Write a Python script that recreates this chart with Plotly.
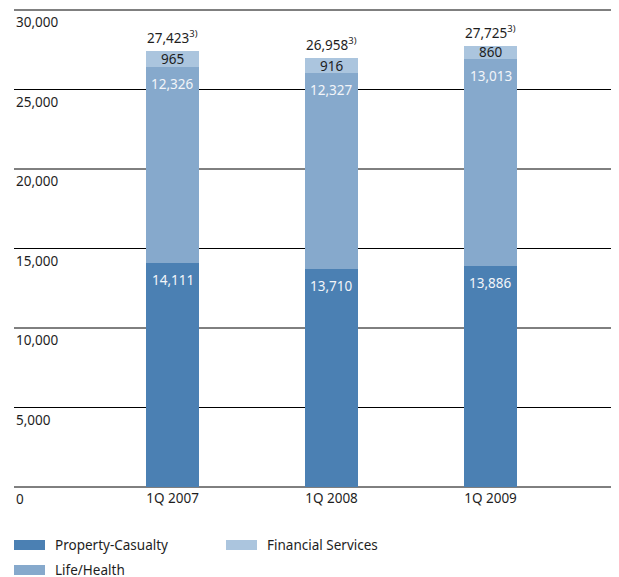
import plotly.graph_objects as go

categories = ["1Q 2007", "1Q 2008", "1Q 2009"]
property_casualty = [14111, 13710, 13886]
life_health = [12326, 12327, 13013]
financial_services = [965, 916, 860]
totals_reported = [27423, 26958, 27725]
footnote = "3)"
y_ticks = [0, 5000, 10000, 15000, 20000, 25000, 30000]

series = [
    ("Property-Casualty", property_casualty, "#4b80b3", "#f2f5f9"),
    ("Life/Health", life_health, "#86a9cc", "#f2f5f9"),
    ("Financial Services", financial_services, "#abc5de", "#1e1e1e"),
]

FONT = "Noto Sans"
FS = 13.5
TXT = "#1e1e1e"
OFF = 8  # page body margin
W, H = 619 - OFF, 577 - OFF
L, R, T, B = 6, 4, 1, 89
PW, PH = W - L - R, H - T - B
PAD = 63  # about one pixel of headroom at each end

fig = go.Figure()
for name, vals, col, _ in series:
    fig.add_trace(go.Bar(x=categories, y=vals, name=name, marker=dict(color=col, line=dict(width=0)),
                         width=0.333, showlegend=False, hoverinfo="skip"))

annotations = []
base = [0, 0, 0]
for si, (name, vals, col, tcol) in enumerate(series):
    for i, v in enumerate(vals):
        top = base[i] + v
        if si < 2:
            annotations.append(dict(x=categories[i], y=top, text=f"{v:,}", showarrow=False,
                                    yanchor="top", yshift=-6, font=dict(family=FONT, size=FS, color=tcol)))
        else:
            annotations.append(dict(x=categories[i], y=base[i] + v / 2, text=f"{v:,}", showarrow=False,
                                    yanchor="middle", font=dict(family=FONT, size=FS, color=tcol)))
        base[i] = top

for i, t in enumerate(totals_reported):
    annotations.append(dict(x=categories[i], y=base[i], text=f"{t:,}<sup>{footnote}</sup>", showarrow=False,
                            yanchor="bottom", yshift=2, font=dict(family=FONT, size=FS, color=TXT)))

# gridlines and y tick labels (labels sit just below their gridline)
shapes = [dict(type="line", xref="paper", yref="y", x0=0, x1=1, y0=v, y1=v, layer="below",
               line=dict(color="#000000", width=1)) for v in y_ticks]
for v in y_ticks:
    annotations.append(dict(xref="paper", yref="y", x=0, y=v, text=f"{v:,}", showarrow=False,
                            xanchor="left", yanchor="middle", yshift=-12, xshift=0,
                            font=dict(family=FONT, size=FS, color=TXT)))

# custom legend (page pixel positions)
def px_x(X):
    return (X - OFF - L) / PW

def px_y(Y):
    return (T + PH - (Y - OFF)) / PH

legend_pos = [(14, 545), (14, 570), (226, 545)]
for (name, vals, col, _), (lx, ly) in zip(series, legend_pos):
    shapes.append(dict(type="rect", xref="paper", yref="paper", x0=px_x(lx), x1=px_x(lx + 31),
                       y0=px_y(ly + 5), y1=px_y(ly - 5), fillcolor=col, line=dict(width=0)))
    annotations.append(dict(xref="paper", yref="paper", x=px_x(lx + 39), y=px_y(ly), text=name,
                            showarrow=False, xanchor="left", yanchor="middle",
                            font=dict(family=FONT, size=FS, color=TXT)))

fig.update_layout(
    width=W, height=H, margin=dict(l=L, r=R, t=T, b=B, autoexpand=False),
    paper_bgcolor="white", plot_bgcolor="white", barmode="stack",
    font=dict(family=FONT, size=FS, color=TXT),
    annotations=annotations, shapes=shapes,
    xaxis=dict(type="category", range=[-0.997, 2.783], showgrid=False, zeroline=False, showline=False,
               ticks="", automargin=False, tickfont=dict(family=FONT, size=FS, color=TXT)),
    yaxis=dict(range=[-PAD, 30000 + PAD], showgrid=False, zeroline=False, showline=False,
               showticklabels=False, automargin=False),
)

fig.write_html("out.html")
